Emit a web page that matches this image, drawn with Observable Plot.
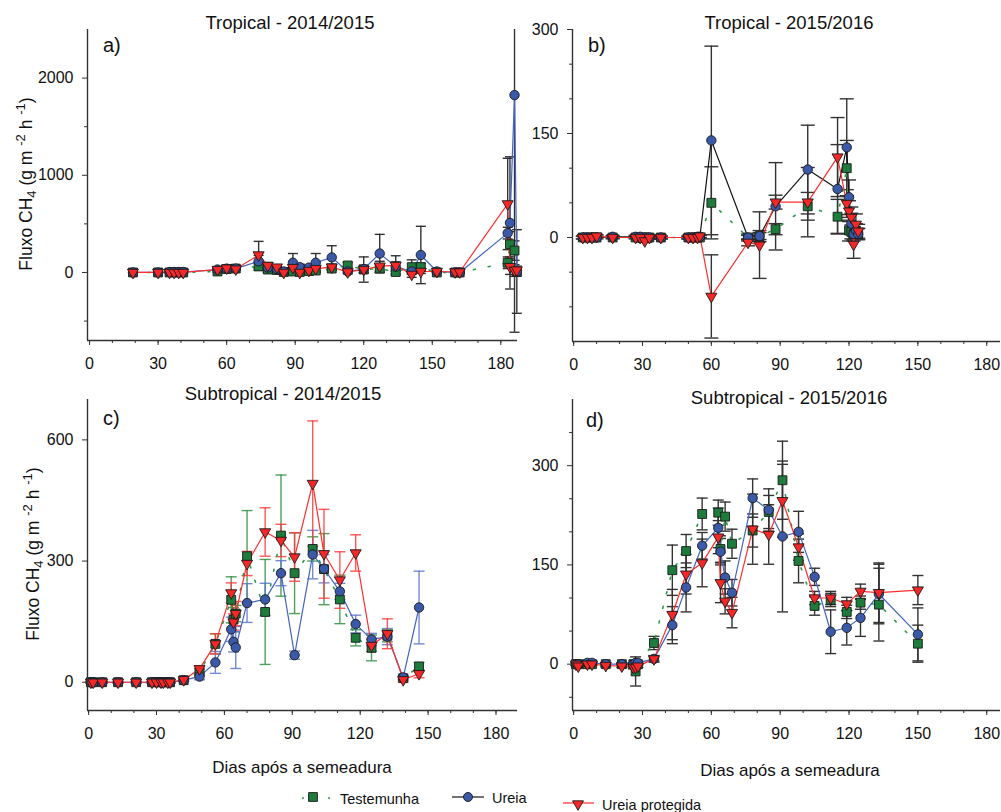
<!DOCTYPE html>
<html>
<head>
<meta charset="utf-8">
<script src="https://cdn.jsdelivr.net/npm/d3@7"></script>
<script src="https://cdn.jsdelivr.net/npm/@observablehq/plot@0.6"></script>
<style>
  body { margin: 0; background: #fff; font-family: "Liberation Sans", Arial, sans-serif; }
  #root { position: relative; width: 1001px; height: 812px; overflow: hidden; background: #fff; }
  .panel { position: absolute; }
  #overlay { position: absolute; left: 0; top: 0; pointer-events: none; }
</style>
</head>
<body>
<div id="root"></div>
<script>
// ---------------- DATA ----------------
const seriesNames = ["Testemunha", "Ureia", "Ureia protegida"];
const panelTitles = ["Tropical - 2014/2015", "Tropical - 2015/2016", "Subtropical - 2014/2015", "Subtropical - 2015/2016"];
const panelLetters = ["a)", "b)", "c)", "d)"];
const xAxisLabel = "Dias após a semeadura";
const xMajorTicks = [0, 30, 60, 90, 120, 150, 180];
const xMinorTicks = [0, 10, 20, 30, 40, 50, 60, 70, 80, 90, 100, 110, 120, 130, 140, 150, 160, 170, 180];

// Panel a) Tropical 2014/2015
const a_days = [19,30,35,37,39,41,56,60,64,74,78,82,85,89,92,96,99,106,113,120,127,134,141,145,152,160,162,183,184,186,187];
const a_test = [0,0,0,0,0,0,10,35,40,62,30,25,5,10,5,15,20,40,72,30,40,5,55,55,0,0,0,100,290,225,5];
const a_ureia = [0,0,5,5,5,5,30,40,40,115,50,35,10,100,55,50,100,155,10,35,195,60,10,180,10,0,0,405,510,1825,10];
const a_prot = [0,0,0,0,0,0,30,45,35,180,72,55,0,50,0,20,40,55,5,30,65,72,-20,10,10,5,5,705,60,20,25];
const a_err_test = [0,0,0,0,0,0,10,10,10,40,30,20,10,20,15,15,20,20,30,30,40,20,75,40,5,5,5,60,130,100,40];
const a_err_ureia = [0,0,0,0,0,0,10,15,15,60,30,20,15,95,30,25,95,120,15,40,197,50,20,295,15,5,5,60,680,2440,430];
const a_err_prot = [0,0,0,0,0,0,10,10,10,140,30,25,20,25,20,15,25,30,20,130,50,100,30,20,10,5,5,470,80,60,40];
const a_yTicks = [0, 1000, 2000];
const a_yMinor = [-500, 500, 1500];

// Panel b) Tropical 2015/2016
const b_days = [4,6,8,10,17,27,29,31,33,38,50,52,54,55,60,76,81,88,102,115,119,120,121,122,123,124];
const b_test = [0,0,0,0,0,0,0,0,0,0,0,0,0,0,50,0,2,12,45,30,100,10,8,5,10,5];
const b_ureia = [0,0,0,0,1,1,1,0,0,0,0,0,1,1,140,0,2,45,98,70,130,58,20,5,10,5];
const b_prot = [0,0,0,2,0,0,0,-5,0,0,0,0,0,2,-85,-7,-11,51,51,116,49,38,29,-10,19,9];
const b_err_test = [0,0,0,0,0,0,0,0,0,0,0,0,0,0,52,3,5,8,20,25,40,15,10,8,10,8];
const b_err_ureia = [2,2,2,2,2,2,2,2,2,2,2,2,2,2,136,5,8,63,64,64,70,25,15,10,10,8];
const b_err_prot = [2,2,2,2,2,2,2,2,2,2,2,2,2,2,60,5,48,10,50,57,20,15,15,20,15,10];
const b_yTicks = [0, 150, 300];
const b_yMinor = [-100, -50, 50, 100, 200, 250];

// Panel c) Subtropical 2014/2015
const c_days = [1,2,6,13,21,28,30,32,33,35,36,42,49,56,63,64,65,70,78,85,91,99,104,111,118,125,132,139,146];
const c_test = [0,0,0,0,0,0,0,0,0,0,0,5,25,95,204,155,170,312,174,363,270,330,280,205,110,85,115,10,39];
const c_ureia = [0,0,0,0,0,0,0,0,0,0,0,5,14,49,131,100,86,196,205,270,67,316,281,225,144,106,113,12,185];
const c_prot = [0,0,0,0,0,0,0,0,0,0,0,6,33,95,221,149,170,294,372,351,310,492,318,253,320,91,120,6,21];
const c_err_test = [2,2,2,2,2,2,2,2,2,2,2,3,8,25,57,30,20,113,130,150,100,30,88,60,20,32,15,5,10];
const c_err_ureia = [2,2,2,2,2,2,2,2,2,2,2,3,8,27,30,25,52,48,40,31,10,60,35,20,22,15,20,5,90];
const c_err_prot = [2,2,2,2,2,2,2,2,2,2,2,3,8,25,25,20,30,30,60,40,60,155,110,70,45,15,37,5,10];
const c_yTicks = [0, 300, 600];
const c_yMinor = [];

// Panel d) Subtropical 2015/2016
const d_days = [1,2,6,8,14,21,26,27,28,35,43,49,56,63,64,66,69,78,85,91,98,105,112,119,125,133,150];
const d_test = [0,0,0,0,0,0,0,-11,0,32,142,171,227,229,174,223,182,202,230,278,156,88,97,79,93,90,31];
const d_ureia = [0,0,2,2,0,0,0,2,2,8,59,116,179,206,170,131,108,251,233,193,200,132,49,55,70,106,45];
const d_prot = [0,-3,0,0,-2,-3,-5,-5,-3,8,75,136,153,192,123,95,78,204,196,247,177,100,100,91,110,108,112];
const d_err_test = [0,0,0,0,0,0,0,22,0,10,38,25,24,19,20,22,22,25,25,59,33,14,10,10,10,55,28];
const d_err_ureia = [2,2,2,2,2,2,2,2,2,3,28,37,20,30,20,25,20,29,32,114,31,13,33,26,28,45,40];
const d_err_prot = [2,2,2,2,2,2,2,2,2,5,38,30,36,25,30,19,23,53,45,55,20,10,10,10,11,45,22];
const d_yTicks = [0, 150, 300];
const d_yMinor = [-50, 50, 100, 200, 250, 350];

// ---------------- STYLE ----------------
const FONT = "Liberation Sans, Arial, sans-serif";
const GREEN_FILL = "#1d7b3b", BLUE_FILL = "#3b59a9", RED_FILL = "#f52727";
const GREEN_LINE = "#2b9a4b", BLUE_LINE = "#4464c2", RED_LINE = "#ff2e2e";
const MARK_STROKE = "#1a1a1a";

const capSymbol = {
  draw(context, size) {
    const w = Math.sqrt(size / Math.PI);
    context.moveTo(-w, 0);
    context.lineTo(w, 0);
  }
};

const panels = [
  {left:0, top:0, width:530, height:375, ml:87, mr:13, mt:29, mb:35,
   xDomain:[-0.9,187.3], yDomain:[-700,2500], yTicks:a_yTicks, yMinor:a_yMinor,
   days:a_days, vals:[a_test,a_ureia,a_prot], errs:[a_err_test,a_err_ureia,a_err_prot],
   ureiaLine: BLUE_LINE, errColors:["#333","#333","#333"], capR:5, errOpacity:1},
  {left:500, top:0, width:501, height:376, ml:72, mr:1, mt:29, mb:35,
   xDomain:[-0.5,186], yDomain:[-150,300], yTicks:b_yTicks, yMinor:b_yMinor,
   days:b_days, vals:[b_test,b_ureia,b_prot], errs:[b_err_test,b_err_ureia,b_err_prot],
   ureiaLine: "#151515", errColors:["#333","#333","#333"], capR:7, errOpacity:1},
  {left:0, top:370, width:530, height:375, ml:87, mr:13, mt:29, mb:35,
   xDomain:[-0.5,189.5], yDomain:[-70,700], yTicks:c_yTicks, yMinor:c_yMinor,
   days:c_days, vals:[c_test,c_ureia,c_prot], errs:[c_err_test,c_err_ureia,c_err_prot],
   ureiaLine: BLUE_LINE, errColors:["#2f8f3f","#5a75c8","#ff3a3a"], capR:5.5, errOpacity:0.85},
  {left:500, top:370, width:501, height:375, ml:72, mr:1, mt:29, mb:35,
   xDomain:[-0.5,186], yDomain:[-70,400], yTicks:d_yTicks, yMinor:d_yMinor,
   days:d_days, vals:[d_test,d_ureia,d_prot], errs:[d_err_test,d_err_ureia,d_err_prot],
   ureiaLine: BLUE_LINE, errColors:["#333","#333","#333"], capR:5.5, errOpacity:1}
];

const root = document.getElementById("root");

function buildPanel(p) {
  const [ylo, yhi] = p.yDomain;
  const rowsBySeries = p.vals.map((vals, s) =>
    p.days.map((day, i) => ({day, value: vals[i], err: p.errs[s][i], s}))
          .filter(d => d.value != null));
  const marks = [];
  // error bars (clamped to the plotting frame)
  rowsBySeries.forEach((rows, s) => {
    const er = rows.filter(d => d.err > 0);
    const st = {stroke: p.errColors[s], strokeWidth: 1.4, strokeOpacity: p.errOpacity};
    marks.push(Plot.ruleX(er, {x: "day",
      y1: d => Math.max(ylo, d.value - d.err),
      y2: d => Math.min(yhi, d.value + d.err), ...st}));
    marks.push(Plot.dot(er.filter(d => d.value + d.err <= yhi),
      {x: "day", y: d => d.value + d.err, symbol: capSymbol, r: p.capR, fill: "none", ...st}));
    marks.push(Plot.dot(er.filter(d => d.value - d.err >= ylo),
      {x: "day", y: d => d.value - d.err, symbol: capSymbol, r: p.capR, fill: "none", ...st}));
  });
  // lines
  marks.push(Plot.line(rowsBySeries[0], {x: "day", y: "value", stroke: GREEN_LINE, strokeWidth: 1.6, strokeDasharray: "2,13"}));
  marks.push(Plot.line(rowsBySeries[1], {x: "day", y: "value", stroke: p.ureiaLine, strokeWidth: 1.2}));
  marks.push(Plot.line(rowsBySeries[2], {x: "day", y: "value", stroke: RED_LINE, strokeWidth: 1.2}));
  // markers
  marks.push(Plot.dot(rowsBySeries[0], {x: "day", y: "value", symbol: "square", r: 5, fill: GREEN_FILL, stroke: MARK_STROKE, strokeWidth: 0.9}));
  marks.push(Plot.dot(rowsBySeries[1], {x: "day", y: "value", symbol: "circle", r: 4.7, fill: BLUE_FILL, stroke: MARK_STROKE, strokeWidth: 0.9}));
  marks.push(Plot.dot(rowsBySeries[2], {x: "day", y: "value", symbol: "triangle", rotate: 180, r: 4.1, fill: RED_FILL, stroke: MARK_STROKE, strokeWidth: 0.9}));
  // axes
  const minorX = xMinorTicks.filter(t => t <= p.xDomain[1]);
  marks.push(Plot.axisX({ticks: xMajorTicks, tickSize: 5, tickPadding: 12, fontSize: 16, label: null, stroke: "#333", fill: "#111", tickFormat: d => String(d)}));
  marks.push(Plot.axisX({ticks: minorX, tickSize: 3, label: null, stroke: "#333", tickFormat: () => ""}));
  marks.push(Plot.axisY({ticks: p.yTicks, tickSize: 5, tickPadding: 9, fontSize: 16, label: null, stroke: "#333", fill: "#111", tickFormat: d => String(d)}));
  if (p.yMinor.length) marks.push(Plot.axisY({ticks: p.yMinor, tickSize: 3, label: null, stroke: "#333", tickFormat: () => ""}));
  marks.push(Plot.ruleX([p.xDomain[0]], {stroke: "#333", strokeWidth: 1.4}));
  marks.push(Plot.ruleY([p.yDomain[0]], {stroke: "#333", strokeWidth: 1.4}));

  const svg = Plot.plot({
    width: p.width, height: p.height,
    marginLeft: p.ml, marginRight: p.mr, marginTop: p.mt, marginBottom: p.mb,
    x: {domain: p.xDomain},
    y: {domain: p.yDomain},
    style: {background: "transparent", overflow: "visible", fontFamily: FONT, color: "#111"},
    marks
  });
  const div = document.createElement("div");
  div.className = "panel";
  div.style.left = p.left + "px";
  div.style.top = p.top + "px";
  div.appendChild(svg);
  root.appendChild(div);
}

panels.forEach(buildPanel);

// ---------------- OVERLAY TEXT + LEGEND ----------------
const ov = d3.select("#root").append("svg")
  .attr("id", "overlay").attr("width", 1001).attr("height", 812)
  .style("font-family", FONT).style("fill", "#111");

const titlePos = [[290, 29], [789, 29], [283, 400], [789, 404]];
panelTitles.forEach((t, i) => ov.append("text").attr("x", titlePos[i][0]).attr("y", titlePos[i][1])
  .attr("text-anchor", "middle").attr("font-size", 18.5).text(t));

const letterPos = [[103, 52], [588, 52], [103, 425], [586, 427]];
panelLetters.forEach((t, i) => ov.append("text").attr("x", letterPos[i][0]).attr("y", letterPos[i][1])
  .attr("font-size", 20).text(t));

function yLabel(cx, cy) {
  const t = ov.append("text").attr("transform", `translate(${cx},${cy}) rotate(-90)`)
    .attr("text-anchor", "middle").attr("font-size", 17.5);
  t.append("tspan").text("Fluxo CH");
  t.append("tspan").attr("dy", 4).attr("font-size", 13).text("4");
  t.append("tspan").attr("dy", -4).text(" (g m ");
  t.append("tspan").attr("dy", -7).attr("font-size", 13).text("-2");
  t.append("tspan").attr("dy", 7).text(" h ");
  t.append("tspan").attr("dy", -7).attr("font-size", 13).text("-1");
  t.append("tspan").attr("dy", 7).text(")");
}
yLabel(32, 184);
yLabel(39, 554);

ov.append("text").attr("x", 302).attr("y", 773).attr("text-anchor", "middle").attr("font-size", 17).text(xAxisLabel);
ov.append("text").attr("x", 790).attr("y", 776).attr("text-anchor", "middle").attr("font-size", 17).text(xAxisLabel);

// legend
const lg = ov.append("g");
// Testemunha
lg.append("line").attr("x1", 302).attr("x2", 330).attr("y1", 798).attr("y2", 798)
  .attr("stroke", GREEN_LINE).attr("stroke-width", 1.6).attr("stroke-dasharray", "2,24");
lg.append("path").attr("d", d3.symbol(d3.symbolSquare, 78)()).attr("transform", "translate(313,797)")
  .attr("fill", GREEN_FILL).attr("stroke", MARK_STROKE).attr("stroke-width", 0.9);
lg.append("text").attr("x", 340).attr("y", 804).attr("font-size", 14.5).text(seriesNames[0]);
// Ureia
lg.append("line").attr("x1", 452).attr("x2", 484).attr("y1", 797).attr("y2", 797).attr("stroke", "#151515").attr("stroke-width", 1.2);
lg.append("circle").attr("cx", 468).attr("cy", 797).attr("r", 4.5).attr("fill", BLUE_FILL).attr("stroke", MARK_STROKE).attr("stroke-width", 0.9);
lg.append("text").attr("x", 492).attr("y", 803).attr("font-size", 14.5).text(seriesNames[1]);
// Ureia protegida
lg.append("line").attr("x1", 563).attr("x2", 594).attr("y1", 803).attr("y2", 803).attr("stroke", RED_LINE).attr("stroke-width", 1.2);
lg.append("path").attr("d", d3.symbol(d3.symbolTriangle, 52)()).attr("transform", "translate(578,804) rotate(180)")
  .attr("fill", RED_FILL).attr("stroke", MARK_STROKE).attr("stroke-width", 0.9);
lg.append("text").attr("x", 602).attr("y", 810).attr("font-size", 14.5).text(seriesNames[2]);
</script>
</body>
</html>
